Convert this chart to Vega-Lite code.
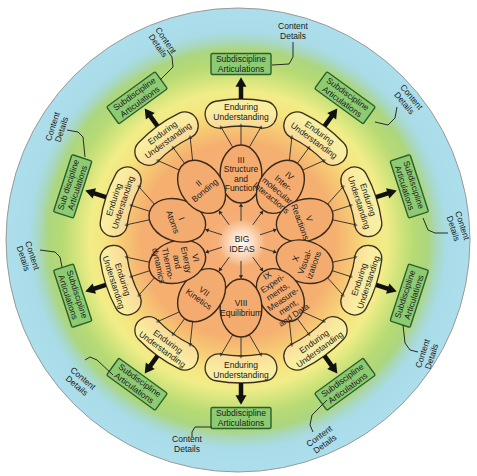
{
  "$schema": "https://vega.github.io/schema/vega-lite/v6.json",
  "width": 477,
  "height": 476,
  "padding": 0,
  "autosize": {"type": "fit", "contains": "padding"},
  "background": "#ffffff",
  "config": {"view": {"stroke": null}},
  "datasets": {
    "bg": [{"x": -3, "y": -1, "t0": 0, "t1": 360, "r0": 0, "r1": 232}],
    "glow": [{"x": 1, "y": 2, "t0": 0, "t1": 360, "r0": 0, "r1": 24}],
    "eu": [
      {"x": 0, "y": 0, "t0": -16, "t1": 16, "r0": 115, "r1": 142},
      {"x": 0, "y": 0, "t0": 20, "t1": 52, "r0": 115, "r1": 142},
      {"x": 0, "y": 0, "t0": 56, "t1": 88, "r0": 115, "r1": 142},
      {"x": 0, "y": 0, "t0": 92, "t1": 124, "r0": 115, "r1": 142},
      {"x": 0, "y": 0, "t0": 128, "t1": 160, "r0": 115, "r1": 142},
      {"x": 0, "y": 0, "t0": 164, "t1": 196, "r0": 115, "r1": 142},
      {"x": 0, "y": 0, "t0": 200, "t1": 232, "r0": 115, "r1": 142},
      {"x": 0, "y": 0, "t0": 236, "t1": 268, "r0": 115, "r1": 142},
      {"x": 0, "y": 0, "t0": 272, "t1": 304, "r0": 115, "r1": 142},
      {"x": 0, "y": 0, "t0": 308, "t1": 340, "r0": 115, "r1": 142}
    ],
    "ell": [
      {"id": "III", "x": 0, "y": -67, "th": 0},
      {"id": "IV", "x": 39.4, "y": -54.2, "th": 36},
      {"id": "V", "x": 63.7, "y": -20.7, "th": 72},
      {"id": "X", "x": 63.7, "y": 20.7, "th": 108},
      {"id": "IX", "x": 39.4, "y": 54.2, "th": 144},
      {"id": "VIII", "x": 0, "y": 67, "th": 180},
      {"id": "VII", "x": -39.4, "y": 54.2, "th": 216},
      {"id": "VI", "x": -63.7, "y": 20.7, "th": 252},
      {"id": "I", "x": -63.7, "y": -20.7, "th": 288},
      {"id": "II", "x": -39.4, "y": -54.2, "th": 324}
    ],
    "box": [
      {"x": 0, "y": -177, "rot": 0},
      {"x": 104, "y": -143.2, "rot": 36},
      {"x": 168.3, "y": -54.7, "rot": 72},
      {"x": 168.3, "y": 54.7, "rot": -72},
      {"x": 104, "y": 143.2, "rot": -36},
      {"x": 0, "y": 177, "rot": 0},
      {"x": -104, "y": 143.2, "rot": 36},
      {"x": -168.3, "y": 54.7, "rot": 72},
      {"x": -168.3, "y": -54.7, "rot": -72},
      {"x": -104, "y": -143.2, "rot": -36}
    ],
    "thin": [
      {"x": -8.2, "y": -93.6, "x2": -20.1, "y2": -114.2, "dir": -33},
      {"x": 0, "y": -96, "x2": 0, "y2": -116, "dir": 0},
      {"x": 8.2, "y": -93.6, "x2": 20.1, "y2": -114.2, "dir": 33},
      {"x": 48.4, "y": -80.6, "x2": 50.9, "y2": -104.3, "dir": 3},
      {"x": 56.4, "y": -77.7, "x2": 68.2, "y2": -93.8, "dir": 36},
      {"x": 61.7, "y": -70.9, "x2": 83.4, "y2": -80.6, "dir": 69},
      {"x": 86.5, "y": -36.7, "x2": 102.4, "y2": -54.5, "dir": 39},
      {"x": 91.3, "y": -29.7, "x2": 110.3, "y2": -35.8, "dir": 72},
      {"x": 91.6, "y": -21.2, "x2": 114.9, "y2": -16.1, "dir": 105},
      {"x": 91.6, "y": 21.2, "x2": 114.9, "y2": 16.1, "dir": 75},
      {"x": 91.3, "y": 29.7, "x2": 110.3, "y2": 35.8, "dir": 108},
      {"x": 86.5, "y": 36.7, "x2": 102.4, "y2": 54.5, "dir": 141},
      {"x": 61.7, "y": 70.9, "x2": 83.4, "y2": 80.6, "dir": 111},
      {"x": 56.4, "y": 77.7, "x2": 68.2, "y2": 93.8, "dir": 144},
      {"x": 48.4, "y": 80.6, "x2": 50.9, "y2": 104.3, "dir": 177},
      {"x": 8.2, "y": 93.6, "x2": 20.1, "y2": 114.2, "dir": 147},
      {"x": 0, "y": 96, "x2": 0, "y2": 116, "dir": 180},
      {"x": -8.2, "y": 93.6, "x2": -20.1, "y2": 114.2, "dir": 213},
      {"x": -48.4, "y": 80.6, "x2": -50.9, "y2": 104.3, "dir": 183},
      {"x": -56.4, "y": 77.7, "x2": -68.2, "y2": 93.8, "dir": 216},
      {"x": -61.7, "y": 70.9, "x2": -83.4, "y2": 80.6, "dir": 249},
      {"x": -86.5, "y": 36.7, "x2": -102.4, "y2": 54.5, "dir": 219},
      {"x": -91.3, "y": 29.7, "x2": -110.3, "y2": 35.8, "dir": 252},
      {"x": -91.6, "y": 21.2, "x2": -114.9, "y2": 16.1, "dir": 285},
      {"x": -91.6, "y": -21.2, "x2": -114.9, "y2": -16.1, "dir": 255},
      {"x": -91.3, "y": -29.7, "x2": -110.3, "y2": -35.8, "dir": 288},
      {"x": -86.5, "y": -36.7, "x2": -102.4, "y2": -54.5, "dir": 321},
      {"x": -61.7, "y": -70.9, "x2": -83.4, "y2": -80.6, "dir": 291},
      {"x": -56.4, "y": -77.7, "x2": -68.2, "y2": -93.8, "dir": 324},
      {"x": -48.4, "y": -80.6, "x2": -50.9, "y2": -104.3, "dir": 357},
      {"x": 0, "y": -20, "x2": 0, "y2": -36, "dir": 0},
      {"x": 11.8, "y": -16.2, "x2": 21.2, "y2": -29.1, "dir": 36},
      {"x": 19, "y": -6.2, "x2": 34.2, "y2": -11.1, "dir": 72},
      {"x": 19, "y": 6.2, "x2": 34.2, "y2": 11.1, "dir": 108},
      {"x": 11.8, "y": 16.2, "x2": 21.2, "y2": 29.1, "dir": 144},
      {"x": 0, "y": 20, "x2": 0, "y2": 36, "dir": 180},
      {"x": -11.8, "y": 16.2, "x2": -21.2, "y2": 29.1, "dir": 216},
      {"x": -19, "y": 6.2, "x2": -34.2, "y2": 11.1, "dir": 252},
      {"x": -19, "y": -6.2, "x2": -34.2, "y2": -11.1, "dir": 288},
      {"x": -11.8, "y": -16.2, "x2": -21.2, "y2": -29.1, "dir": 324}
    ],
    "thick": [
      {"x": 0, "y": -142, "x2": 0, "y2": -155, "hx": 0, "hy": -159, "dir": 0},
      {"x": 83.5, "y": -114.9, "x2": 91.1, "y2": -125.4, "hx": 93.5, "hy": -128.6, "dir": 36},
      {"x": 135.1, "y": -43.9, "x2": 147.4, "y2": -47.9, "hx": 151.2, "hy": -49.1, "dir": 72},
      {"x": 135.1, "y": 43.9, "x2": 147.4, "y2": 47.9, "hx": 151.2, "hy": 49.1, "dir": 108},
      {"x": 83.5, "y": 114.9, "x2": 91.1, "y2": 125.4, "hx": 93.5, "hy": 128.6, "dir": 144},
      {"x": 0, "y": 142, "x2": 0, "y2": 155, "hx": 0, "hy": 159, "dir": 180},
      {"x": -83.5, "y": 114.9, "x2": -91.1, "y2": 125.4, "hx": -93.5, "hy": 128.6, "dir": 216},
      {"x": -135.1, "y": 43.9, "x2": -147.4, "y2": 47.9, "hx": -151.2, "hy": 49.1, "dir": 252},
      {"x": -135.1, "y": -43.9, "x2": -147.4, "y2": -47.9, "hx": -151.2, "hy": -49.1, "dir": 288},
      {"x": -83.5, "y": -114.9, "x2": -91.1, "y2": -125.4, "hx": -93.5, "hy": -128.6, "dir": 324}
    ],
    "conn": [
      {"id": 0, "o": 0, "x": 31, "y": -176}, {"id": 0, "o": 1, "x": 48, "y": -177}, {"id": 0, "o": 2, "x": 52, "y": -184}, {"id": 0, "o": 3, "x": 52, "y": -199},
      {"id": 1, "o": 0, "x": 134, "y": -119}, {"id": 1, "o": 1, "x": 147, "y": -116}, {"id": 1, "o": 2, "x": 154, "y": -123}, {"id": 1, "o": 3, "x": 156, "y": -134},
      {"id": 2, "o": 0, "x": 182, "y": -23}, {"id": 2, "o": 1, "x": 187, "y": -11}, {"id": 2, "o": 2, "x": 194, "y": -8}, {"id": 2, "o": 3, "x": 207, "y": -8},
      {"id": 3, "o": 0, "x": 162, "y": 84}, {"id": 3, "o": 1, "x": 164, "y": 102}, {"id": 3, "o": 2, "x": 169, "y": 109}, {"id": 3, "o": 3, "x": 177, "y": 111},
      {"id": 4, "o": 0, "x": 86, "y": 159}, {"id": 4, "o": 1, "x": 71, "y": 174}, {"id": 4, "o": 2, "x": 69, "y": 184}, {"id": 4, "o": 3, "x": 72, "y": 191},
      {"id": 5, "o": 0, "x": -29, "y": 186}, {"id": 5, "o": 1, "x": -46, "y": 186}, {"id": 5, "o": 2, "x": -49, "y": 191}, {"id": 5, "o": 3, "x": -49, "y": 196},
      {"id": 6, "o": 0, "x": -128, "y": 134}, {"id": 6, "o": 1, "x": -144, "y": 119}, {"id": 6, "o": 2, "x": -151, "y": 116}, {"id": 6, "o": 3, "x": -156, "y": 119},
      {"id": 7, "o": 0, "x": -179, "y": 26}, {"id": 7, "o": 1, "x": -181, "y": 16}, {"id": 7, "o": 2, "x": -186, "y": 11}, {"id": 7, "o": 3, "x": -201, "y": 9},
      {"id": 8, "o": 0, "x": -156, "y": -84}, {"id": 8, "o": 1, "x": -158, "y": -104}, {"id": 8, "o": 2, "x": -163, "y": -109}, {"id": 8, "o": 3, "x": -174, "y": -111},
      {"id": 9, "o": 0, "x": -81, "y": -161}, {"id": 9, "o": 1, "x": -68, "y": -174}, {"id": 9, "o": 2, "x": -69, "y": -184}, {"id": 9, "o": 3, "x": -74, "y": -191}
    ],
    "labels": [
      {"t": "BIG\nIDEAS", "n": 2, "x": 1, "y": 3, "rot": 0},
      {"t": "III\nStructure\nand\nFunction", "n": 4, "x": 0, "y": -67, "rot": 0},
      {"t": "IV\nInter-\nmolecular\nInteractions", "n": 4, "x": 39.4, "y": -54.2, "rot": 40},
      {"t": "V\nReactions", "n": 2, "x": 63.7, "y": -20.7, "rot": 70},
      {"t": "X\nVisual-\nizations", "n": 3, "x": 63.7, "y": 20.7, "rot": -70},
      {"t": "IX\nExperi-\nments,\nMeasure-\nment,\nand Data", "n": 6, "x": 39.4, "y": 54.2, "rot": -34},
      {"t": "VIII\nEquilibrium", "n": 2, "x": 0, "y": 67, "rot": 0},
      {"t": "VII\nKinetics", "n": 2, "x": -39.4, "y": 54.2, "rot": 35},
      {"t": "VI\nEnergy\nand\nThermo-\ndynamics", "n": 5, "x": -63.7, "y": 20.7, "rot": 78},
      {"t": "I\nAtoms", "n": 2, "x": -63.7, "y": -20.7, "rot": 70},
      {"t": "II\nBonding", "n": 2, "x": -39.4, "y": -54.2, "rot": -40},
      {"t": "Enduring\nUnderstanding", "n": 2, "x": 0, "y": -129, "rot": 0},
      {"t": "Enduring\nUnderstanding", "n": 2, "x": 75.8, "y": -104.4, "rot": 36},
      {"t": "Enduring\nUnderstanding", "n": 2, "x": 122.7, "y": -39.9, "rot": 72},
      {"t": "Enduring\nUnderstanding", "n": 2, "x": 122.7, "y": 39.9, "rot": -72},
      {"t": "Enduring\nUnderstanding", "n": 2, "x": 75.8, "y": 104.4, "rot": -36},
      {"t": "Enduring\nUnderstanding", "n": 2, "x": 0, "y": 129, "rot": 0},
      {"t": "Enduring\nUnderstanding", "n": 2, "x": -75.8, "y": 104.4, "rot": 36},
      {"t": "Enduring\nUnderstanding", "n": 2, "x": -122.7, "y": 39.9, "rot": 72},
      {"t": "Enduring\nUnderstanding", "n": 2, "x": -122.7, "y": -39.9, "rot": -72},
      {"t": "Enduring\nUnderstanding", "n": 2, "x": -75.8, "y": -104.4, "rot": -36},
      {"t": "Subdiscipline\nArticulations", "n": 2, "x": 0, "y": -177, "rot": 0},
      {"t": "Subdiscipline\nArticulations", "n": 2, "x": 104, "y": -143.2, "rot": 36},
      {"t": "Subdiscipline\nArticulations", "n": 2, "x": 168.3, "y": -54.7, "rot": 72},
      {"t": "Subdiscipline\nArticulations", "n": 2, "x": 168.3, "y": 54.7, "rot": -72},
      {"t": "Subdiscipline\nArticulations", "n": 2, "x": 104, "y": 143.2, "rot": -36},
      {"t": "Subdiscipline\nArticulations", "n": 2, "x": 0, "y": 177, "rot": 0},
      {"t": "Subdiscipline\nArticulations", "n": 2, "x": -104, "y": 143.2, "rot": 36},
      {"t": "Subdiscipline\nArticulations", "n": 2, "x": -168.3, "y": 54.7, "rot": 72},
      {"t": "Sub discipline\nArticulations", "n": 2, "x": -168.3, "y": -54.7, "rot": -72},
      {"t": "Subdiscipline\nArticulations", "n": 2, "x": -104, "y": -143.2, "rot": -36},
      {"t": "Content\nDetails", "n": 2, "x": 52, "y": -210, "rot": 0},
      {"t": "Content\nDetails", "n": 2, "x": 167, "y": -141, "rot": 50},
      {"t": "Content\nDetails", "n": 2, "x": 217, "y": -14, "rot": 72},
      {"t": "Content\nDetails", "n": 2, "x": 186, "y": 114, "rot": -72},
      {"t": "Content\nDetails", "n": 2, "x": 81, "y": 199, "rot": -36},
      {"t": "Content\nDetails", "n": 2, "x": -54, "y": 203, "rot": 0},
      {"t": "Content\nDetails", "n": 2, "x": -161, "y": 141, "rot": 40},
      {"t": "Content\nDetails", "n": 2, "x": -213, "y": 16, "rot": 72},
      {"t": "Content\nDetails", "n": 2, "x": -184, "y": -113, "rot": -72},
      {"t": "Content\nDetails", "n": 2, "x": -79, "y": -198, "rot": 55}
    ]
  },
  "encoding": {
    "x": {"field": "x", "type": "quantitative", "scale": {"domain": [-241, 236], "nice": false, "zero": false}, "axis": null},
    "y": {"field": "y", "type": "quantitative", "scale": {"domain": [-241, 235], "reverse": true, "nice": false, "zero": false}, "axis": null}
  },
  "layer": [
    {
      "data": {"name": "bg"},
      "mark": {
        "type": "arc",
        "fill": {
          "gradient": "radial", "x1": 0.5, "y1": 0.5, "x2": 0.5, "y2": 0.5, "r1": 0, "r2": 0.5,
          "stops": [
            {"offset": 0, "color": "#f7ba88"},
            {"offset": 0.12, "color": "#f5ad74"},
            {"offset": 0.42, "color": "#f5b070"},
            {"offset": 0.5, "color": "#f6ca74"},
            {"offset": 0.57, "color": "#f6e47e"},
            {"offset": 0.64, "color": "#f1ed88"},
            {"offset": 0.7, "color": "#d2e47c"},
            {"offset": 0.76, "color": "#b6da74"},
            {"offset": 0.82, "color": "#acd67e"},
            {"offset": 0.86, "color": "#a8d8c2"},
            {"offset": 0.9, "color": "#a9dce8"},
            {"offset": 1, "color": "#acdeec"}
          ]
        }
      },
      "encoding": {
        "theta": {"field": "t0", "type": "quantitative", "stack": null, "scale": {"type": "linear", "domain": [0, 360], "range": [0, 6.283185307], "zero": false, "nice": false}},
        "theta2": {"field": "t1"},
        "radius": {"field": "r1", "type": "quantitative", "scale": {"type": "linear", "domain": [0, 240], "range": [0, 240], "zero": false, "nice": false}},
        "radius2": {"field": "r0"}
      }
    },
    {
      "data": {"name": "bg"},
      "mark": {"type": "point", "shape": "circle", "size": 215296, "filled": false, "stroke": "#9a9a9a", "strokeWidth": 1, "opacity": 1}
    },
    {
      "data": {"name": "glow"},
      "mark": {
        "type": "arc",
        "fill": {
          "gradient": "radial", "x1": 0.5, "y1": 0.5, "x2": 0.5, "y2": 0.5, "r1": 0, "r2": 0.5,
          "stops": [
            {"offset": 0, "color": "rgba(255,255,255,0.95)"},
            {"offset": 0.5, "color": "rgba(255,245,235,0.6)"},
            {"offset": 1, "color": "rgba(255,240,225,0)"}
          ]
        }
      },
      "encoding": {
        "theta": {"field": "t0", "type": "quantitative", "stack": null},
        "theta2": {"field": "t1"},
        "radius": {"field": "r1", "type": "quantitative"},
        "radius2": {"field": "r0"}
      }
    },
    {
      "data": {"name": "thin"},
      "mark": {"type": "rule", "stroke": "#2a2a2a", "strokeWidth": 0.9},
      "encoding": {"x2": {"field": "x2"}, "y2": {"field": "y2"}}
    },
    {
      "data": {"name": "thin"},
      "mark": {"type": "point", "shape": "triangle-up", "size": 18, "filled": true, "fill": "#2a2a2a", "strokeWidth": 0, "opacity": 1},
      "encoding": {
        "x": {"field": "x2", "type": "quantitative"},
        "y": {"field": "y2", "type": "quantitative"},
        "angle": {"field": "dir", "type": "quantitative", "scale": null}
      }
    },
    {
      "data": {"name": "eu"},
      "mark": {"type": "arc", "cornerRadius": 13, "fill": "#fffbe0", "fillOpacity": 0.35, "stroke": "#3a2e1c", "strokeWidth": 1.3},
      "encoding": {
        "theta": {"field": "t0", "type": "quantitative", "stack": null},
        "theta2": {"field": "t1"},
        "radius": {"field": "r1", "type": "quantitative"},
        "radius2": {"field": "r0"}
      }
    },
    {
      "data": {"name": "ell"},
      "mark": {"type": "point", "shape": "M0,-1A0.72,1,0,1,1,0,1A0.72,1,0,1,1,0,-1Z", "size": 3364, "filled": true, "fill": "#f4ab70", "stroke": "#3a2a1c", "strokeWidth": 1.4, "opacity": 1},
      "encoding": {"angle": {"field": "th", "type": "quantitative", "scale": null}}
    },
    {
      "data": {"name": "thick"},
      "mark": {"type": "rule", "stroke": "#111111", "strokeWidth": 4.5},
      "encoding": {"x2": {"field": "x2"}, "y2": {"field": "y2"}}
    },
    {
      "data": {"name": "thick"},
      "mark": {"type": "point", "shape": "triangle-up", "size": 120, "filled": true, "fill": "#111111", "strokeWidth": 0, "opacity": 1},
      "encoding": {
        "x": {"field": "hx", "type": "quantitative"},
        "y": {"field": "hy", "type": "quantitative"},
        "angle": {"field": "dir", "type": "quantitative", "scale": null}
      }
    },
    {
      "data": {"name": "box"},
      "mark": {"type": "point", "shape": "M-0.95,-0.35L0.95,-0.35Q1,-0.35,1,-0.3L1,0.3Q1,0.35,0.95,0.35L-0.95,0.35Q-1,0.35,-1,0.3L-1,-0.3Q-1,-0.35,-0.95,-0.35Z", "size": 3600, "filled": true, "fill": "#8ccb72", "stroke": "#2d5e2d", "strokeWidth": 1.4, "opacity": 1},
      "encoding": {"angle": {"field": "rot", "type": "quantitative", "scale": null}}
    },
    {
      "data": {"name": "conn"},
      "mark": {"type": "line", "stroke": "#2a2a2a", "strokeWidth": 1, "interpolate": "linear"},
      "encoding": {"detail": {"field": "id", "type": "nominal"}, "order": {"field": "o", "type": "quantitative"}}
    },
    {
      "data": {"name": "labels"},
      "transform": [{"filter": "datum.n == 2"}],
      "mark": {"type": "text", "font": "Liberation Sans", "fontSize": 8.5, "lineBreak": "\n", "lineHeight": 9.5, "dy": -4.75, "fill": "#1a1a1a", "align": "center", "baseline": "middle"},
      "encoding": {
        "text": {"field": "t", "type": "nominal"},
        "angle": {"field": "rot", "type": "quantitative", "scale": null}
      }
    },
    {
      "data": {"name": "labels"},
      "transform": [{"filter": "datum.n == 3"}],
      "mark": {"type": "text", "font": "Liberation Sans", "fontSize": 8.5, "lineBreak": "\n", "lineHeight": 9.5, "dy": -9.5, "fill": "#1a1a1a", "align": "center", "baseline": "middle"},
      "encoding": {
        "text": {"field": "t", "type": "nominal"},
        "angle": {"field": "rot", "type": "quantitative", "scale": null}
      }
    },
    {
      "data": {"name": "labels"},
      "transform": [{"filter": "datum.n == 4"}],
      "mark": {"type": "text", "font": "Liberation Sans", "fontSize": 8.5, "lineBreak": "\n", "lineHeight": 9.5, "dy": -14.25, "fill": "#1a1a1a", "align": "center", "baseline": "middle"},
      "encoding": {
        "text": {"field": "t", "type": "nominal"},
        "angle": {"field": "rot", "type": "quantitative", "scale": null}
      }
    },
    {
      "data": {"name": "labels"},
      "transform": [{"filter": "datum.n == 5"}],
      "mark": {"type": "text", "font": "Liberation Sans", "fontSize": 8.5, "lineBreak": "\n", "lineHeight": 9.5, "dy": -19, "fill": "#1a1a1a", "align": "center", "baseline": "middle"},
      "encoding": {
        "text": {"field": "t", "type": "nominal"},
        "angle": {"field": "rot", "type": "quantitative", "scale": null}
      }
    },
    {
      "data": {"name": "labels"},
      "transform": [{"filter": "datum.n == 6"}],
      "mark": {"type": "text", "font": "Liberation Sans", "fontSize": 8.5, "lineBreak": "\n", "lineHeight": 9.5, "dy": -23.75, "fill": "#1a1a1a", "align": "center", "baseline": "middle"},
      "encoding": {
        "text": {"field": "t", "type": "nominal"},
        "angle": {"field": "rot", "type": "quantitative", "scale": null}
      }
    }
  ]
}
